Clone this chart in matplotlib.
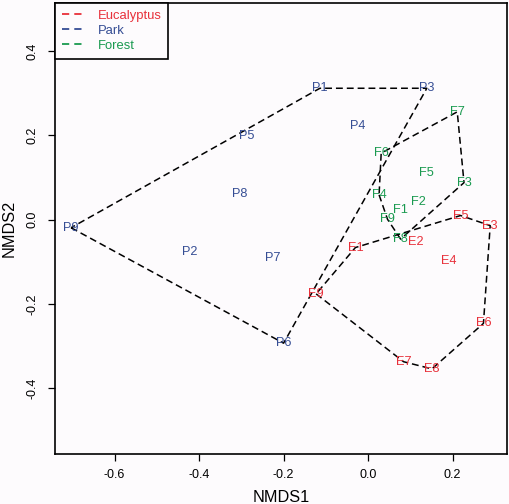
import numpy as np
import matplotlib
matplotlib.use("Agg")
import matplotlib.pyplot as plt
from matplotlib.lines import Line2D

plt.rcParams['font.family'] = ['Liberation Sans', 'DejaVu Sans']

groups = ["Eucalyptus", "Park", "Forest"]
colors = {"Eucalyptus": "#E8303A", "Park": "#354D94", "Forest": "#1A9A50"}

euc_labels = ["E1", "E2", "E3", "E4", "E5", "E6", "E7", "E8", "E9"]
euc_x = [-0.030, 0.114, 0.289, 0.191, 0.219, 0.273, 0.084, 0.151, -0.123]
euc_y = [-0.066, -0.052, -0.014, -0.098, 0.010, -0.246, -0.337, -0.354, -0.176]

park_labels = ["P1", "P2", "P3", "P4", "P5", "P6", "P7", "P8", "P9"]
park_x = [-0.114, -0.421, 0.139, -0.024, -0.286, -0.200, -0.226, -0.305, -0.703]
park_y = [0.312, -0.077, 0.312, 0.223, 0.199, -0.293, -0.092, 0.061, -0.019]

for_labels = ["F1", "F2", "F3", "F4", "F5", "F6", "F7", "F8", "F9"]
for_x = [0.077, 0.119, 0.227, 0.026, 0.139, 0.031, 0.211, 0.077, 0.046]
for_y = [0.024, 0.043, 0.088, 0.059, 0.112, 0.158, 0.256, -0.046, 0.001]

data = {
    "Eucalyptus": (euc_labels, euc_x, euc_y),
    "Park": (park_labels, park_x, park_y),
    "Forest": (for_labels, for_x, for_y),
}


def convex_hull(xs, ys):
    pts = sorted(set(zip(xs, ys)))

    def cross(o, a, b):
        return (a[0] - o[0]) * (b[1] - o[1]) - (a[1] - o[1]) * (b[0] - o[0])

    lower = []
    for p in pts:
        while len(lower) >= 2 and cross(lower[-2], lower[-1], p) <= 0:
            lower.pop()
        lower.append(p)
    upper = []
    for p in reversed(pts):
        while len(upper) >= 2 and cross(upper[-2], upper[-1], p) <= 0:
            upper.pop()
        upper.append(p)
    hull = lower[:-1] + upper[:-1]
    hull.append(hull[0])
    return np.array(hull)


fig = plt.figure(figsize=(5.10, 5.04), dpi=100, facecolor="#FDFBFD")
ax = fig.add_axes([0.1078, 0.0992, 0.8857, 0.8954])
ax.set_facecolor("#FDFBFD")

for g in groups:
    labs, xs, ys = data[g]
    h = convex_hull(xs, ys)
    line, = ax.plot(h[:, 0], h[:, 1], color="black", lw=1.1, zorder=2)
    line.set_dashes((4.5, 2.6))
    for lab, x, y in zip(labs, xs, ys):
        ax.text(x, y, lab, color=colors[g], fontsize=9.2, ha="center", va="center", zorder=3)

ax.set_xlim(-0.741, 0.328)
ax.set_ylim(-0.556, 0.515)
ax.set_xticks([-0.6, -0.4, -0.2, 0.0, 0.2])
ax.set_xticklabels(["-0.6", "-0.4", "-0.2", "0.0", "0.2"])
ax.set_yticks([-0.4, -0.2, 0.0, 0.2, 0.4])
ax.set_yticklabels(["-0.4", "-0.2", "0.0", "0.2", "0.4"], rotation=90, va="center")
ax.tick_params(axis="both", direction="out", length=5, width=0.9, labelsize=9.0)
ax.tick_params(axis="x", pad=6)
ax.tick_params(axis="y", pad=7)
for s in ax.spines.values():
    s.set_linewidth(1.2)
ax.set_xlabel("NMDS1", fontsize=11.7, labelpad=6)
ax.set_ylabel("NMDS2", fontsize=11.7, labelpad=7)

handles = []
for g in groups:
    l = Line2D([], [], color=colors[g], lw=1.3)
    l.set_dashes((4.0, 2.8))
    handles.append(l)
leg = ax.legend(handles, groups, loc="upper left", bbox_to_anchor=(0, 1), borderaxespad=0,
                fancybox=False, edgecolor="black", framealpha=1, facecolor="#FDFBFD",
                fontsize=9.4, handlelength=1.7, handletextpad=1.0, borderpad=0.55,
                labelspacing=0.22, labelcolor=[colors[g] for g in groups])
leg.get_frame().set_linewidth(1.2)

fig.savefig("out.png", dpi=100, facecolor=fig.get_facecolor())
